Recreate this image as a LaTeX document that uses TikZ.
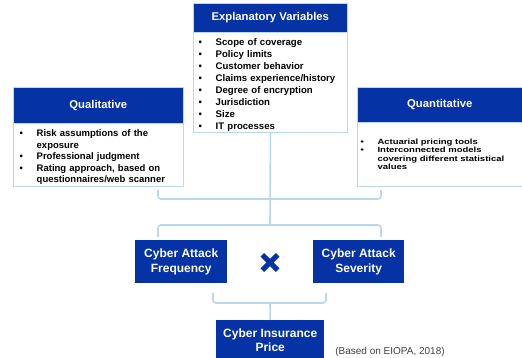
\documentclass[tikz,border=0pt]{standalone}
\usepackage{fontspec}
\setmainfont{Liberation Sans}
\usepackage{tikz}
\usetikzlibrary{calc}

\definecolor{darkblue}{HTML}{0532A4}
\definecolor{paleblue}{HTML}{BCD6EE}

\newcommand{\bitem}[1]{\par\noindent\hangindent=17pt\hangafter=1\makebox[17pt][l]{\textbullet}#1\par}
\newcommand{\bitemw}[1]{\par\noindent\hangindent=13.5pt\hangafter=1\makebox[13.5pt][l]{\textbullet}#1\par}

\begin{document}
\begin{tikzpicture}[x=1pt, y=-1pt,
    head/.style={anchor=north west, fill=darkblue, draw=paleblue, line width=0.6pt, inner sep=0pt, text=white, font=\bfseries\fontsize{11.3}{13}\selectfont},
    body/.style={anchor=north west, fill=white, draw=paleblue, line width=0.9pt, inner sep=0pt},
    items/.style={anchor=west, inner sep=0pt, align=left, font=\bfseries\fontsize{9.6}{11.9}\selectfont},
    result/.style={anchor=north west, fill=darkblue, inner sep=0pt, text=white, align=center, font=\bfseries\fontsize{12}{15}\selectfont},
    brace/.style={draw=paleblue, line width=1.6pt, rounded corners=3pt},
    cross/.style={draw=darkblue, line width=5pt}]
    \useasboundingbox (0,0) rectangle (522,358);

    % explanatory variables
    \node (exphead) at (193,3) [head, minimum width=154pt, minimum height=29pt] {Explanatory Variables};
    \node (expbody) at (193,32) [body, minimum width=154pt, minimum height=100pt] {};
    \node (exptext) at ([xshift=5.5pt]expbody.west) [items, text width=148pt] {%
        \bitem{Scope of coverage}\bitem{Policy limits}\bitem{Customer behavior}%
        \bitem{Claims experience/history}\bitem{Degree of encryption}%
        \bitem{Jurisdiction}\bitem{Size}\bitem{IT processes}};

    % qualitative
    \node (qualhead) at (13,87) [head, minimum width=170pt, minimum height=36pt] {Qualitative};
    \node (qualbody) at (13,123) [body, minimum width=170pt, minimum height=63pt] {};
    \node (qualtext) at ([xshift=6.5pt]qualbody.west) [items, text width=164pt, font=\bfseries\fontsize{9.5}{11.5}\selectfont] {%
        \bitem{Risk assumptions of the\newline exposure}\bitem{Professional judgment}%
        \bitem{Rating approach, based on\newline questionnaires/web scanner}};

    % quantitative (text is stretched sideways)
    \node (quanhead) at (357,87) [head, minimum width=165pt, minimum height=35pt] {Quantitative};
    \node (quanbody) at (357,122) [body, minimum width=164.5pt, minimum height=64pt] {};
    \node (quantext) at ([xshift=3.5pt]quanbody.west) [anchor=west, inner sep=0pt, font=\bfseries\fontsize{7.6}{8.4}\selectfont] {%
        \scalebox{1.25}[1]{\parbox{125pt}{\raggedright
        \bitemw{Actuarial pricing tools}%
        \bitemw{Interconnected models\newline covering different statistical\newline values}}}};

    % frequency x severity
    \node (freq) at (135,240) [result, minimum width=92pt, minimum height=43pt] {Cyber Attack\\Frequency};
    \node (sev) at (313,240) [result, minimum width=91pt, minimum height=43pt] {Cyber Attack\\Severity};
    \node (times) at (270,262.5) [minimum size=15pt, inner sep=0pt] {};
    \draw[cross] (times.north west) -- (times.south east);
    \draw[cross] (times.north east) -- (times.south west);

    \node (price) at (216,320) [result, minimum width=108pt, minimum height=40pt, font=\bfseries\fontsize{12}{14}\selectfont] {Cyber Insurance\\Price};
    \node (source) at (390,352) [text=black!75, font=\fontsize{10}{12}\selectfont] {(Based on EIOPA, 2018)};

    % brackets
    \coordinate (b1l) at (158,190);
    \coordinate (b1m) at (270,199);
    \coordinate (b1r) at (381,190);
    \coordinate (b2l) at (158,237);
    \coordinate (b2m) at (270,225);
    \coordinate (b2r) at (381,237);
    \coordinate (b3l) at (213,293);
    \coordinate (b3m) at (270,303);
    \coordinate (b3r) at (326,293);

    \draw[brace] (b1l) |- (b1m) -| (b1r);
    \draw[brace] (expbody.south) -- (b2m);
    \draw[brace] (b2l) |- (b2m) -| (b2r);
    \draw[brace] (b3l) |- (b3m) -| (b3r);
    \draw[brace] (b3m) -- (price.north);
\end{tikzpicture}
\end{document}
